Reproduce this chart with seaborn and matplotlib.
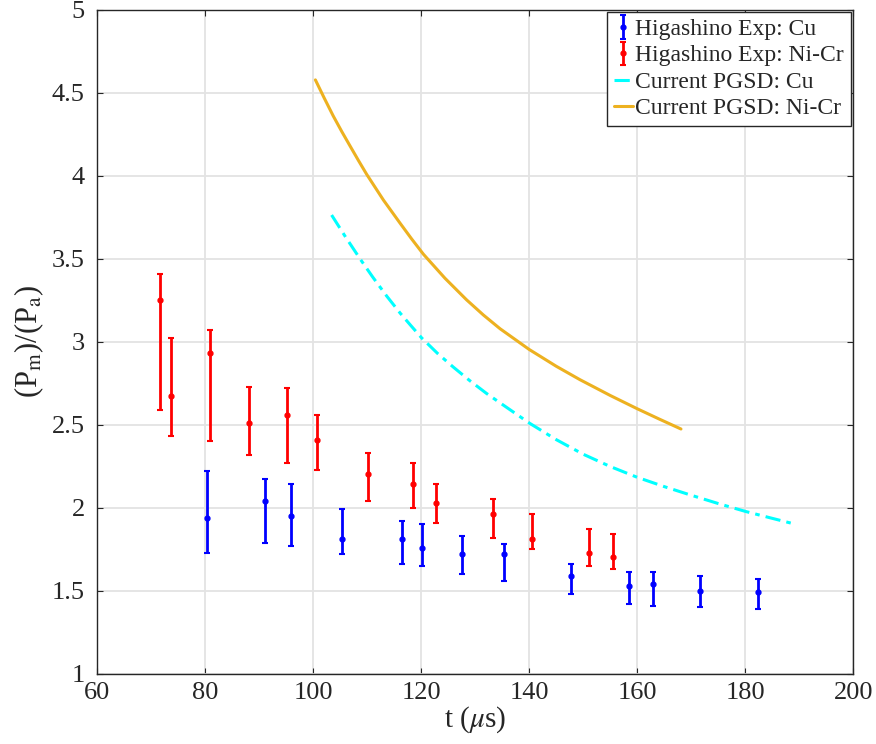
import numpy as np
import pandas as pd
import matplotlib
matplotlib.use("Agg")
import matplotlib.pyplot as plt
import seaborn as sns

# ---- data ----
cu_t = [80.3, 91.1, 95.8, 105.4, 116.5, 120.2, 127.6, 135.4, 147.8, 158.4, 162.9, 171.7, 182.3]
cu_y = [1.94, 2.04, 1.95, 1.81, 1.81, 1.76, 1.72, 1.72, 1.59, 1.53, 1.54, 1.50, 1.49]
cu_hi = [2.22, 2.17, 2.14, 1.99, 1.92, 1.90, 1.83, 1.78, 1.66, 1.61, 1.61, 1.59, 1.57]
cu_lo = [1.73, 1.79, 1.77, 1.72, 1.66, 1.65, 1.60, 1.56, 1.48, 1.42, 1.41, 1.40, 1.39]

nicr_t = [71.7, 73.7, 80.9, 88.1, 95.1, 100.7, 110.1, 118.5, 122.7, 133.3, 140.6, 151.0, 155.6]
nicr_y = [3.25, 2.67, 2.93, 2.51, 2.56, 2.41, 2.20, 2.14, 2.03, 1.96, 1.81, 1.73, 1.70]
nicr_hi = [3.41, 3.02, 3.07, 2.73, 2.72, 2.56, 2.33, 2.27, 2.14, 2.05, 1.96, 1.87, 1.84]
nicr_lo = [2.59, 2.43, 2.40, 2.32, 2.27, 2.23, 2.04, 2.00, 1.91, 1.82, 1.75, 1.65, 1.63]

pgsd_cu_t = [103.4, 106.0, 108.65, 111.0, 113.6, 116.1, 118.0, 120.1, 123.0, 125.9, 129.0, 132.1,
             136.0, 140.1, 145.0, 150.0, 155.0, 160.0, 165.0, 169.8, 175.0, 180.1, 184.5, 188.6]
pgsd_cu_y = [3.763, 3.63, 3.50, 3.39, 3.275, 3.172, 3.10, 3.022, 2.93, 2.848, 2.765, 2.688,
             2.60, 2.508, 2.41, 2.322, 2.248, 2.183, 2.127, 2.077, 2.025, 1.977, 1.94, 1.906]

pgsd_nicr_t = [100.4, 102.0, 103.7, 105.3, 106.8, 108.4, 109.9, 113.0, 116.1, 118.2, 120.4, 124.4,
               128.4, 131.5, 134.6, 140.0, 145.0, 149.4, 155.0, 160.0, 164.0, 168.1]
pgsd_nicr_y = [4.577, 4.47, 4.36, 4.265, 4.18, 4.09, 4.008, 3.853, 3.713, 3.62, 3.527, 3.382,
               3.252, 3.161, 3.078, 2.953, 2.852, 2.771, 2.676, 2.596, 2.535, 2.474]

xticks = [60, 80, 100, 120, 140, 160, 180, 200]
yticks = [1, 1.5, 2, 2.5, 3, 3.5, 4, 4.5, 5]

# ---- style ----
sns.set_theme(style="whitegrid")
plt.rcParams["font.family"] = ["Liberation Serif", "DejaVu Serif"]
plt.rcParams["mathtext.fontset"] = "stix"

fig = plt.figure(figsize=(8.76, 7.44), dpi=100)
ax = fig.add_axes([0.111, 0.0945, 0.863, 0.8925])

df_cu = pd.DataFrame({"t": pgsd_cu_t, "y": pgsd_cu_y})
df_ni = pd.DataFrame({"t": pgsd_nicr_t, "y": pgsd_nicr_y})

def errs(y, lo, hi):
    y = np.array(y); lo = np.array(lo); hi = np.array(hi)
    return np.vstack([y - lo, hi - y])

ax.errorbar(cu_t, cu_y, yerr=errs(cu_y, cu_lo, cu_hi), fmt="o", color="#0000ff",
            ms=3.5, mfc="#0000ff", elinewidth=2, capsize=2.5, capthick=1.5,
            label="Higashino Exp: Cu", zorder=3)
ax.errorbar(nicr_t, nicr_y, yerr=errs(nicr_y, nicr_lo, nicr_hi), fmt="o", color="#ff0000",
            ms=3.5, mfc="#ff0000", elinewidth=2, capsize=2.5, capthick=1.5,
            label="Higashino Exp: Ni-Cr", zorder=3)
sns.lineplot(data=df_cu, x="t", y="y", ax=ax, color="#00ffff", lw=2.2,
             linestyle=(0, (5, 2, 1.5, 2)), label="Current PGSD: Cu", sort=False)
sns.lineplot(data=df_ni, x="t", y="y", ax=ax, color="#EDB120", lw=2.2,
             label="Current PGSD: Ni-Cr", sort=False)

ax.set_xlim(60, 200)
ax.set_ylim(1, 5)
ax.set_xticks(xticks)
ax.set_yticks(yticks)
ax.set_xticklabels([str(v) for v in xticks])
ax.set_yticklabels([f"{v:g}" for v in yticks])
ax.tick_params(axis="both", labelsize=19, direction="in", length=4, width=0.8,
               colors="#262626", bottom=True, left=True, top=True, right=True)
ax.tick_params(axis="x", pad=6)
ax.tick_params(axis="y", pad=9)
ax.grid(True, color="#e3e3e3", lw=1.3)
for s in ax.spines.values():
    s.set_color("#262626")
    s.set_linewidth(1.0)

ax.set_xlabel(r"t ($\mu$s)", fontsize=21, color="#262626", labelpad=0)
ax.set_ylabel(r"(P$_{\mathrm{m}}$)/(P$_{\mathrm{a}}$)", fontsize=22, color="#262626", labelpad=4)

handles, labels = ax.get_legend_handles_labels()
order = ["Higashino Exp: Cu", "Higashino Exp: Ni-Cr", "Current PGSD: Cu", "Current PGSD: Ni-Cr"]
hmap = dict(zip(labels, handles))
leg = ax.legend([hmap[k] for k in order], order, loc="upper right", fontsize=17, frameon=True,
                fancybox=False, edgecolor="#262626", framealpha=1, borderpad=0.3,
                labelspacing=0.22, handlelength=0.8, handletextpad=0.1, borderaxespad=0.1,
                handleheight=0.6)
leg.get_frame().set_linewidth(1.0)

fig.savefig("out.png", dpi=100)
